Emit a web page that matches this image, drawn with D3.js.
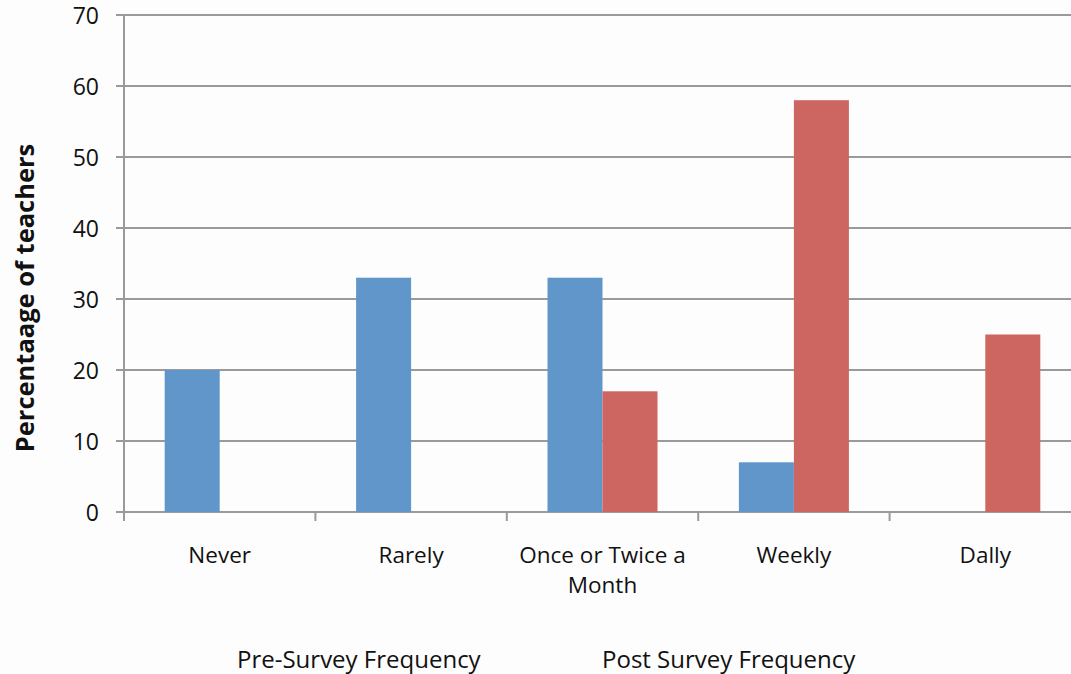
<!DOCTYPE html>
<html>
<head>
<meta charset="utf-8">
<script src="https://cdn.jsdelivr.net/npm/d3@7"></script>
<style>
  html, body { margin: 0; padding: 0; background: #fdfdfd; }
  svg { display: block; }
  text { font-family: "Open Sans", Lato, sans-serif; fill: #111; }
</style>
</head>
<body>
<svg id="chart" width="1071" height="674"></svg>
<script>
// Frequency categories and teacher percentages
const categories = ["Never", "Rarely", "Once or Twice a Month", "Weekly", "Dally"];
const preSurvey  = [20, 33, 33, 7, 0];
const postSurvey = [0, 0, 17, 58, 25];
const seriesNames = ["Pre-Survey Frequency", "Post Survey Frequency"];
const yTicks = [0, 10, 20, 30, 40, 50, 60, 70];

const colors = ["#6096ca", "#cd6560"];

const svg = d3.select("#chart");
const margin = { left: 124, top: 15, bottom: 512 };
const plotRight = 124 + 5 * 191.4;

const x = d3.scaleBand().domain(categories).range([margin.left, plotRight]).paddingInner(0).paddingOuter(0);
// two adjacent bars per category, centred with a gap on each side
const inner = d3.scaleBand().domain([0, 1]).range([0, x.bandwidth()]).paddingInner(0).paddingOuter(0.74);
const y = d3.scaleLinear().domain([0, 70]).range([margin.bottom, margin.top]);

// horizontal gridlines
svg.append("g")
  .selectAll("line")
  .data(yTicks)
  .join("line")
  .attr("x1", margin.left - 8)
  .attr("x2", plotRight)
  .attr("y1", d => y(d))
  .attr("y2", d => y(d))
  .attr("stroke", "#9a9a9a")
  .attr("stroke-width", 2);

// y axis line
svg.append("line")
  .attr("x1", margin.left).attr("x2", margin.left)
  .attr("y1", y(70)).attr("y2", y(0) + 7)
  .attr("stroke", "#9a9a9a").attr("stroke-width", 2);

// y tick labels
svg.append("g")
  .selectAll("text")
  .data(yTicks)
  .join("text")
  .attr("x", 99)
  .attr("y", d => y(d) + 1)
  .attr("dy", "0.36em")
  .attr("text-anchor", "end")
  .attr("font-size", 23)
  .text(d => d);

// x category tick marks
svg.append("g")
  .selectAll("line")
  .data(categories.map((c, i) => i))
  .join("line")
  .attr("x1", i => x(categories[i]))
  .attr("x2", i => x(categories[i]))
  .attr("y1", y(0))
  .attr("y2", y(0) + 9)
  .attr("stroke", "#9a9a9a")
  .attr("stroke-width", 2);

// bars
const series = [preSurvey, postSurvey];
series.forEach((vals, s) => {
  svg.append("g")
    .selectAll("rect")
    .data(vals.map((v, i) => ({ cat: categories[i], v })))
    .join("rect")
    .attr("x", d => x(d.cat) + inner(s))
    .attr("width", inner.bandwidth())
    .attr("y", d => y(d.v))
    .attr("height", d => y(0) - y(d.v))
    .attr("fill", colors[s]);
});

// x category labels (wrapped at a fixed width)
const labelLines = {
  "Once or Twice a Month": ["Once or Twice a", "Month"]
};
const xLabels = svg.append("g")
  .selectAll("text")
  .data(categories)
  .join("text")
  .attr("x", d => x(d) + x.bandwidth() / 2)
  .attr("y", 563)
  .attr("text-anchor", "middle")
  .attr("font-size", 22.5);
xLabels.each(function(d) {
  const lines = labelLines[d] || [d];
  const t = d3.select(this);
  lines.forEach((ln, k) => {
    t.append("tspan")
      .attr("x", x(d) + x.bandwidth() / 2)
      .attr("dy", k === 0 ? 0 : 30)
      .text(ln);
  });
});

// y axis title
svg.append("text")
  .attr("transform", "translate(34,298) rotate(-90)")
  .attr("text-anchor", "middle")
  .attr("font-size", 25.5)
  .attr("font-weight", "bold")
  .text("Percentaage of teachers");

// legend
svg.append("g")
  .selectAll("text")
  .data(seriesNames)
  .join("text")
  .attr("x", (d, i) => [237, 602][i])
  .attr("y", 668)
  .attr("font-size", 24)
  .text(d => d);
</script>
</body>
</html>
